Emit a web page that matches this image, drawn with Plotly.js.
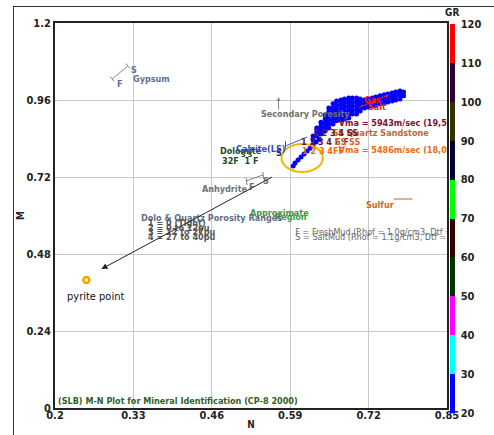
<!DOCTYPE html>
<html>
<head>
<meta charset="utf-8">
<script src="https://cdn.plot.ly/plotly-3.0.1.min.js"></script>
<style>
html,body{margin:0;padding:0;background:#fff;}
#chart{width:494px;height:435px;position:absolute;left:0;top:0;}
#frame{position:absolute;left:13px;top:6px;width:520px;height:520px;border:1px solid #333;pointer-events:none;}
</style>
</head>
<body>
<div id="chart"></div>
<div id="frame"></div>
<script>
// ---- axis ticks ----
const xTicks = [0.2, 0.33, 0.46, 0.59, 0.72, 0.85];
const xTickText = ['0.2', '0.33', '0.46', '0.59', '0.72', '0.85'];
const yTicks = [0, 0.24, 0.48, 0.72, 0.96, 1.2];
const yTickText = ['0', '0.24', '0.48', '0.72', '0.96', '1.2'];

// ---- GR colour bands ----
const grBandEdges = [20, 30, 40, 50, 60, 70, 80, 90, 100, 110, 120];
const grBandColors = ['#0000FF', '#00FFFF', '#FF00FF', '#003300', '#330000',
                      '#00FF00', '#000033', '#333300', '#2B0033', '#FF0000'];

// ---- well log points (N, M, GR) ----
const nVals = [
  0.595,0.598,0.603,0.608,0.613,0.618,0.623,0.628,0.633,0.638,
  0.628,0.628,
  0.634,0.634,0.634,
  0.641,0.641,0.641,0.641,
  0.648,0.648,0.648,0.648,0.648,
  0.654,0.654,0.654,0.654,0.654,0.654,
  0.661,0.661,0.661,0.661,0.661,0.661,
  0.667,0.667,0.667,0.667,0.667,0.667,
  0.674,0.674,0.674,0.674,0.674,0.674,
  0.680,0.680,0.680,0.680,0.680,0.680,
  0.687,0.687,0.687,0.687,0.687,0.687,
  0.693,0.693,0.693,0.693,0.693,
  0.700,0.700,0.700,0.700,0.700,
  0.706,0.706,0.706,0.706,
  0.713,0.713,0.713,
  0.719,0.719,0.719,
  0.726,0.726,0.726,
  0.732,0.732,0.732,
  0.739,0.739,0.739,
  0.746,0.746,0.746,
  0.752,0.752,0.752,
  0.759,0.759,0.759,
  0.765,0.765,0.765,
  0.772,0.772,0.772,
  0.778,0.778
];
const mVals = [
  0.754,0.764,0.773,0.782,0.792,0.801,0.810,0.820,0.829,0.838,
  0.848,0.835,
  0.873,0.860,0.848,
  0.891,0.879,0.867,0.854,
  0.913,0.901,0.888,0.876,0.863,
  0.935,0.923,0.910,0.898,0.885,0.873,
  0.948,0.935,0.923,0.910,0.898,0.885,
  0.957,0.944,0.932,0.920,0.907,0.895,
  0.960,0.948,0.935,0.923,0.910,0.898,
  0.963,0.951,0.938,0.926,0.913,0.901,
  0.966,0.954,0.941,0.929,0.916,0.904,
  0.966,0.954,0.941,0.929,0.916,
  0.966,0.954,0.941,0.929,0.916,
  0.963,0.951,0.938,0.926,
  0.960,0.948,0.935,
  0.963,0.951,0.938,
  0.966,0.954,0.941,
  0.969,0.957,0.944,
  0.973,0.960,0.948,
  0.976,0.963,0.951,
  0.979,0.966,0.954,
  0.982,0.969,0.957,
  0.985,0.973,0.960,
  0.988,0.976,0.963,
  0.985,0.973
];
const grVals = [
  24,25,23,26,24,27,25,23,26,24,
  25,27,
  24,26,23,
  25,22,27,24,
  26,24,25,23,27,
  24,26,25,22,24,27,
  25,23,26,24,25,22,
  27,24,25,26,23,24,
  25,26,24,23,27,25,
  24,22,26,25,24,23,
  26,25,24,27,23,25,
  24,26,25,23,24,
  25,24,27,26,23,
  24,25,26,22,
  25,24,26,
  23,25,24,
  26,24,25,
  24,27,23,
  25,24,26,
  23,25,24,
  26,24,25,
  24,23,26,
  25,26,24,
  24,25,23,
  26,24
];

// ---- pyrite point ----
const pyriteN = [0.252];
const pyriteM = [0.399];

// ---- label texts ----
const vmaHigh = 'Vma = 5943m/sec (19,5%)';
const vmaLow = 'Vma = 5486m/sec (18,0%)';
const mudFresh = 'F = FreshMud (Rhof = 1.0g/cm3, Dtf = 189us/ft)';
const mudSalt = 'S = SaltMud (Rhof = 1.1g/cm3, Dtf = 185us/ft)';
const rangeLines = ['1 = 0 (Tight)', '2 = 0 to 12pu', '3 = 12 to 27pu', '4 = 27 to 40pu'];
const chartNote = '(SLB) M-N Plot for Mineral Identification (CP-8 2000)';

// ---- build colourscale from bands ----
const cmin = grBandEdges[0], cmax = grBandEdges[grBandEdges.length - 1];
const colorscale = [];
grBandColors.forEach((c, i) => {
  colorscale.push([(grBandEdges[i] - cmin) / (cmax - cmin), c]);
  colorscale.push([(grBandEdges[i + 1] - cmin) / (cmax - cmin), c]);
});

const FF = '"DejaVu Sans Condensed", "DejaVu Sans", sans-serif';
const B = s => '<b>' + s + '</b>';

const traces = [
  {
    type: 'scatter', mode: 'markers', x: nVals, y: mVals, hoverinfo: 'skip',
    marker: {
      size: 5, color: grVals, cmin: cmin, cmax: cmax, colorscale: colorscale,
      line: {width: 0},
      colorbar: {
        thickness: 5, thicknessmode: 'pixels', len: 389, lenmode: 'pixels',
        x: 1.0075, xanchor: 'left', xpad: 0, y: 0.9974, yanchor: 'top', ypad: 0,
        outlinewidth: 0, ticks: 'outside', ticklen: 4, tickcolor: 'rgba(0,0,0,0)',
        tickvals: grBandEdges, ticktext: grBandEdges.map(v => B(String(v))),
        tickfont: {family: FF, size: 11, color: '#222'}
      }
    }
  },
  {
    type: 'scatter', mode: 'markers', x: pyriteN, y: pyriteM, hoverinfo: 'skip',
    marker: {size: 6, color: '#ffffff', line: {color: '#F5A500', width: 2.6}}
  },
  {
    type: 'scatter', mode: 'text', hoverinfo: 'skip', cliponaxis: true,
    x: [0.6704, 0.6704, 0.6606, 0.5985, 0.5985],
    y: [0.8852, 0.8010, 0.8540, 0.5455, 0.5299],
    text: [B(vmaHigh), B(vmaLow), B('SS Quartz Sandstone'), mudFresh, mudSalt],
    textposition: 'middle right',
    textfont: {family: FF, size: 9, color: ['#7a1030', '#f06a10', '#c8641e', '#666666', '#666666']}
  }
];

function ann(x, y, text, color, extra) {
  return Object.assign({x: x, y: y, xref: 'x', yref: 'y', text: text, showarrow: false,
    xanchor: 'left', yanchor: 'middle', borderpad: 0,
    font: {family: FF, size: 9, color: color}}, extra || {});
}

const annotations = [
  ann(0.3274, 1.0255, B('Gypsum'), '#607090'),
  ann(0.3250, 1.0535, B('S'), '#607090'),
  ann(0.3010, 1.0090, B('F'), '#607090'),
  ann(0.5397, 0.9164, B('Secondary Porosity'), '#707070'),
  ann(0.7100, 0.9600, B('Gas'), '#ff1a1a'),
  ann(0.7180, 0.9382, B('Salt'), '#ff1a1a'),
  ann(0.6263, 0.8571, B('1 2 3 4 SS'), '#6a1a2a'),
  ann(0.6067, 0.8291, B('1 2 3 4 F F'), '#6a1a2a'),
  ann(0.6622, 0.8291, B('SS SS'), '#e0602a'),
  ann(0.6083, 0.8010, B('1 2 3 4FF'), '#f06a10'),
  ann(0.4727, 0.8010, B('Dolomite'), '#1e4d1e'),
  ann(0.4989, 0.8073, B('Calcite(LS)'), '#2a48d8'),
  ann(0.5070, 0.7886, B('S S'), '#1e4d1e', {font: {family: FF, size: 7, color: '#1e4d1e'}}),
  ann(0.5640, 0.7948, B('S'), '#1a3a6a'),
  ann(0.4760, 0.7699, B('32F  1 F'), '#1e4d1e'),
  ann(0.4417, 0.6826, B('Anhydrite'), '#707070'),
  ann(0.5200, 0.6888, B('F'), '#707070'),
  ann(0.5440, 0.7075, B('S'), '#707070'),
  ann(0.7145, 0.6327, B('Sulfur'), '#cc6a10'),
  ann(0.5217, 0.6078, B('Approximate'), '#3c9a3c'),
  ann(0.5626, 0.5953, B('Region'), '#3c9a3c'),
  ann(0.3405, 0.5922, B('Dolo & Quartz Porosity Ranges'), '#5e6e86'),
  ann(0.3519, 0.5766, B(rangeLines[0]), '#555555'),
  ann(0.3519, 0.5610, B(rangeLines[1]), '#555555'),
  ann(0.3519, 0.5486, B(rangeLines[2]), '#555555'),
  ann(0.3519, 0.5330, B(rangeLines[3]), '#555555'),
  ann(0.2033, 0.0218, B(chartNote), '#2f5f1f'),
  ann(0.2670, 0.3460, 'pyrite point', '#111111', {xanchor: 'center', font: {family: FF, size: 11, color: '#111'}}),
  // arrows
  {x: 0.277, y: 0.433, xref: 'x', yref: 'y', ax: 0.562, ay: 0.722, axref: 'x', ayref: 'y',
   text: '', showarrow: true, arrowhead: 2, arrowsize: 1.2, arrowwidth: 1, arrowcolor: '#222'},
  {x: 0.5707, y: 0.9694, xref: 'x', yref: 'y', ax: 0.5707, ay: 0.9257, axref: 'x', ayref: 'y',
   text: '', showarrow: true, arrowhead: 2, arrowsize: 0.8, arrowwidth: 1, arrowcolor: '#888'},
  {x: 0.7537, y: 0.9756, xref: 'x', yref: 'y', ax: 0.7014, ay: 0.9351, axref: 'x', ayref: 'y',
   text: '', showarrow: true, arrowhead: 2, arrowsize: 0.7, arrowwidth: 1, arrowcolor: '#ff1a1a'},
  // GR title
  {x: 1.0126, y: 1.026, xref: 'paper', yref: 'paper', text: B('GR'), showarrow: false,
   xanchor: 'center', yanchor: 'middle', font: {family: FF, size: 10, color: '#222'}}
];

function seg(x0, y0, x1, y1, color, w) {
  return {type: 'line', xref: 'x', yref: 'y', x0: x0, y0: y0, x1: x1, y1: y1,
    line: {color: color, width: w || 1}};
}

const shapes = [
  // gypsum bracket
  seg(0.2947, 1.0255, 0.3209, 1.0660, '#7a8aa0'),
  seg(0.2915, 1.0333, 0.2980, 1.0177, '#7a8aa0'),
  seg(0.3176, 1.0738, 0.3241, 1.0582, '#7a8aa0'),
  // anhydrite bracket
  seg(0.5168, 0.7075, 0.5446, 0.7262, '#808080'),
  seg(0.5168, 0.7169, 0.5185, 0.6951, '#808080'),
  seg(0.5446, 0.7356, 0.5462, 0.7138, '#808080'),
  // calcite bracket
  seg(0.5822, 0.8166, 0.6181, 0.8447, '#3355ee'),
  seg(0.5822, 0.8322, 0.5822, 0.8010, '#3355ee'),
  // sulfur pointer
  seg(0.7618, 0.6514, 0.7928, 0.6514, '#e0906a', 1.5),
  // highlight ellipse
  {type: 'circle', xref: 'x', yref: 'y', x0: 0.5756, x1: 0.6440, y0: 0.7356, y1: 0.8230,
   line: {color: '#F5B400', width: 2}}
];

const axisCommon = {
  showgrid: true, gridcolor: '#c8c8c8', gridwidth: 1, zeroline: false,
  showline: true, mirror: true, linecolor: '#222', linewidth: 2, ticks: '',
  tickfont: {family: FF, size: 11, color: '#222'}
};

const layout = {
  width: 494, height: 435,
  margin: {l: 55, r: 41, t: 23, b: 27, pad: 0},
  paper_bgcolor: '#ffffff', plot_bgcolor: '#ffffff',
  showlegend: false,
  xaxis: Object.assign({}, axisCommon, {
    range: [0.2, 0.85], tickmode: 'array', tickvals: xTicks, ticktext: xTickText.map(B),
    ticklabelstandoff: -4,
    title: {text: B('N'), font: {family: FF, size: 10, color: '#222'}, standoff: 0}
  }),
  yaxis: Object.assign({}, axisCommon, {
    range: [0, 1.2], tickmode: 'array', tickvals: yTicks, ticktext: yTickText.map(B),
    title: {text: B('M'), font: {family: FF, size: 10, color: '#222'}, standoff: 0}
  }),
  annotations: annotations,
  shapes: shapes
};

Plotly.newPlot('chart', traces, layout, {staticPlot: true, displayModeBar: false});
</script>
</body>
</html>
